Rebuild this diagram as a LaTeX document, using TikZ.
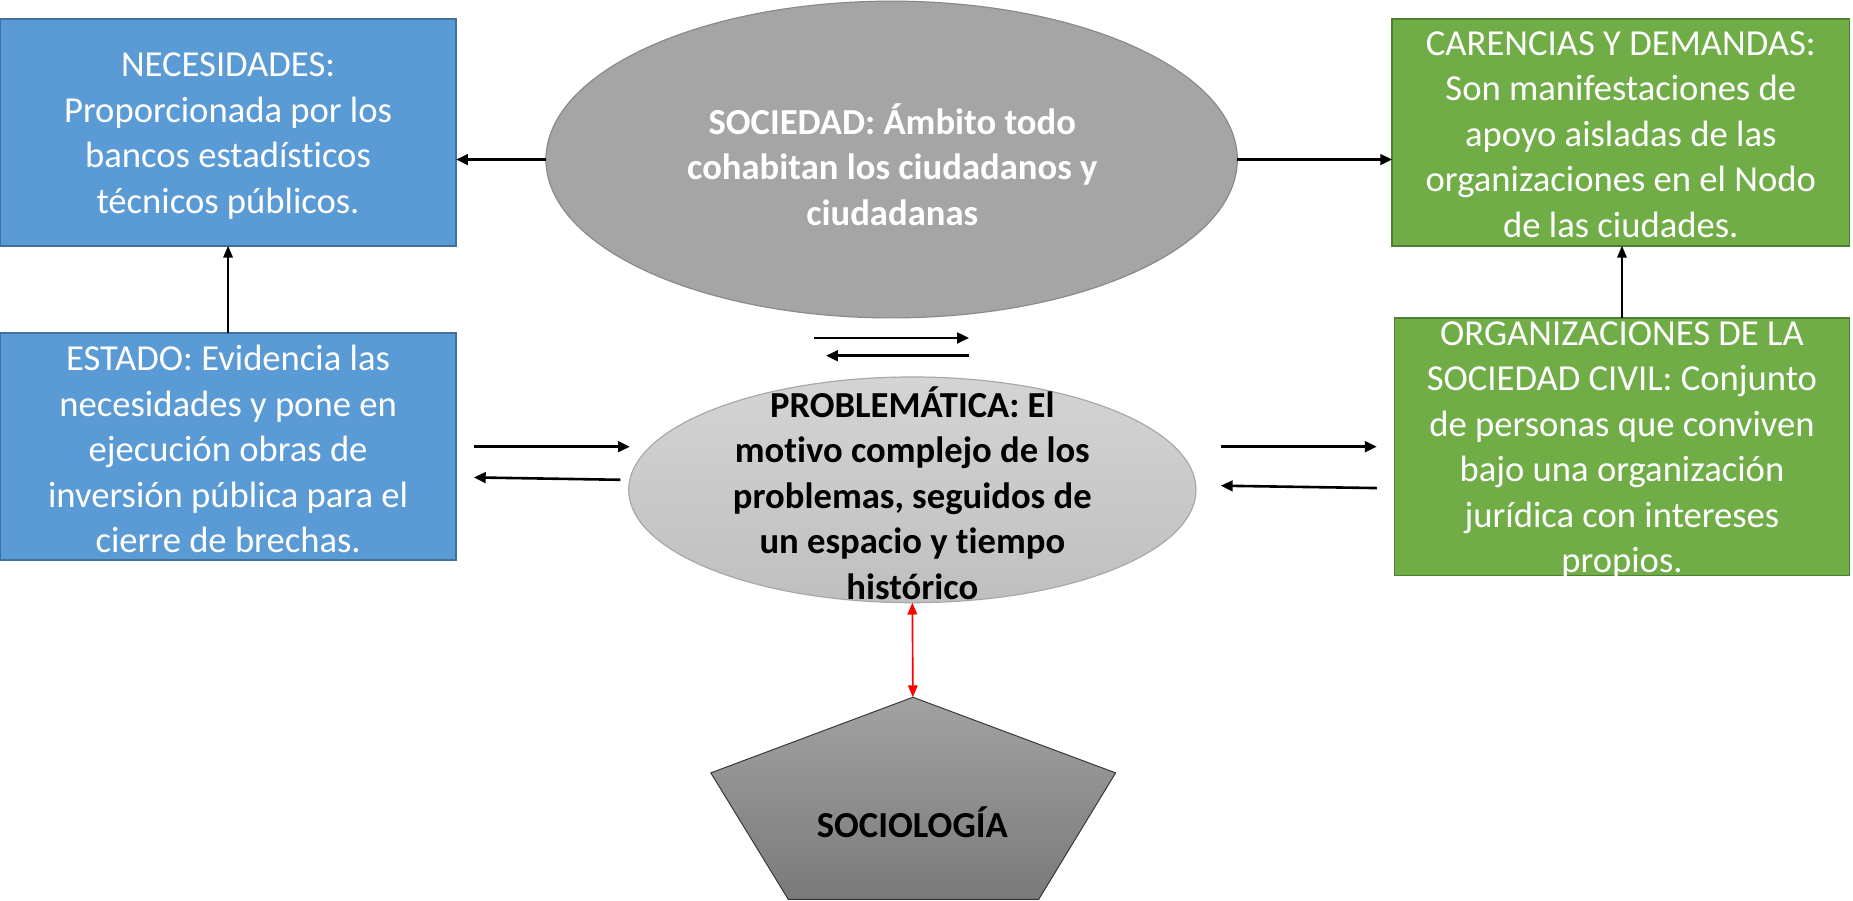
\documentclass[tikz,border=0pt]{standalone}
\usepackage{fontspec}
\setmainfont{Carlito}[Ligatures={NoCommon}]
\usetikzlibrary{shapes.geometric,arrows.meta}
\definecolor{bluefill}{HTML}{5B9BD5}
\definecolor{blueline}{HTML}{41719C}
\definecolor{greenfill}{HTML}{70AD47}
\definecolor{greenline}{HTML}{507E32}
\definecolor{socfill}{HTML}{A5A5A5}
\definecolor{socline}{HTML}{8A8A8A}
\definecolor{probtop}{HTML}{D4D4D4}
\definecolor{probbot}{HTML}{BFBFBF}
\definecolor{probline}{HTML}{A8A8A8}
\definecolor{pentop}{HTML}{A2A2A2}
\definecolor{penbot}{HTML}{7A7A7A}
\begin{document}
\begin{tikzpicture}[x=1pt,y=-1pt,
  boxshape/.style={line width=1.3pt, minimum width=386pt, minimum height=192pt, inner sep=0pt, outer sep=0pt},
  bluebox/.style={boxshape, draw=blueline, fill=bluefill},
  greenbox/.style={boxshape, draw=greenline, fill=greenfill},
  txt/.style={align=center, inner sep=0pt, font=\fontsize{31}{38.5}\selectfont},
  wtxt/.style={txt, text=white},
  btxt/.style={txt, font=\fontsize{31}{38.5}\selectfont\bfseries},
  arr/.style={line width=2.2pt, -{Triangle[length=10pt,width=9pt]}},
  varr/.style={line width=1.5pt, -{Triangle[length=10pt,width=8pt]}},
  redarr/.style={draw=red, line width=1.4pt, {Triangle[length=10pt,width=8pt]}-{Triangle[length=10pt,width=8pt]}}
]
\useasboundingbox (0,0) rectangle (1568,761.6);

% boxes
\node[bluebox] (nec) at (193,112) {};
\node[bluebox] (est) at (193,378) {};
\node[greenbox, minimum width=387pt] (car) at (1371.5,112) {};
\node[greenbox, minimum width=385pt, minimum height=218pt] (org) at (1372.5,378) {};

% ellipses
\node[ellipse, draw=socline, fill=socfill, line width=1pt, minimum width=585pt, minimum height=268pt, inner sep=0pt, outer sep=0pt] (soc) at (754.5,135) {};
\node[ellipse, draw=probline, top color=probtop, bottom color=probbot, line width=1pt, minimum width=480pt, minimum height=191pt, inner sep=0pt, outer sep=0pt] (prob) at (772,414.5) {};

% pentagon
\coordinate (p1) at (772.5,590);
\coordinate (p2) at (944,654);
\coordinate (p3) at (879,761);
\coordinate (p4) at (667,761);
\coordinate (p5) at (601.5,654);
\draw[draw=black!80, line width=0.8pt, top color=pentop, bottom color=penbot] (p1) -- (p2) -- (p3) -- (p4) -- (p5) -- cycle;

% texts
\node[wtxt] (necT) at (193,115) {NECESIDADES:\\Proporcionada por los\\bancos estadísticos\\técnicos públicos.};
\node[wtxt] (estT) at (193,380) {ESTADO: Evidencia las\\necesidades y pone en\\ejecución obras de\\inversión pública para el\\cierre de brechas.};
\node[wtxt] (carT) at (1371.5,114) {CARENCIAS Y DEMANDAS:\\Son manifestaciones de\\apoyo aisladas de las\\organizaciones en el Nodo\\de las ciudades.};
\node[wtxt] (orgT) at (1372.5,381) {ORGANIZACIONES DE LA\\SOCIEDAD CIVIL: Conjunto\\de personas que conviven\\bajo una organización\\jurídica con intereses\\propios.};
\node[btxt, text=white] (socT) at (755,139) {SOCIEDAD: Ámbito todo\\cohabitan los ciudadanos y\\ciudadanas};
\node[btxt] (probT) at (772,417) {PROBLEMÁTICA: El\\motivo complejo de los\\problemas, seguidos de\\un espacio y tiempo\\histórico};
\node[btxt] (socioT) at (772,696) {SOCIOLOGÍA};

% connectors
\draw[arr] (soc.west) -- (soc.west -| nec.east);
\draw[arr] (soc.east) -- (soc.east -| car.west);
\draw[varr] (est.north) -- (nec.south);
\draw[varr] (org.north) -- (org.north |- car.south);

\coordinate (s1) at (689,286);
\coordinate (s2) at (820,286);
\coordinate (s3) at (820,301);
\coordinate (s4) at (699,301);
\draw[arr] (s1) -- (s2);
\draw[arr] (s3) -- (s4);

\coordinate (e1) at (401,378);
\coordinate (e2) at (533,378);
\coordinate (e3) at (525,406);
\coordinate (e4) at (401,404);
\draw[arr] (e1) -- (e2);
\draw[arr] (e3) -- (e4);

\coordinate (o1) at (1033,378);
\coordinate (o2) at (1165,378);
\coordinate (o3) at (1165,413);
\coordinate (o4) at (1033,411);
\draw[arr] (o1) -- (o2);
\draw[arr] (o3) -- (o4);

\draw[redarr] (prob.south) -- (p1);
\end{tikzpicture}
\end{document}
